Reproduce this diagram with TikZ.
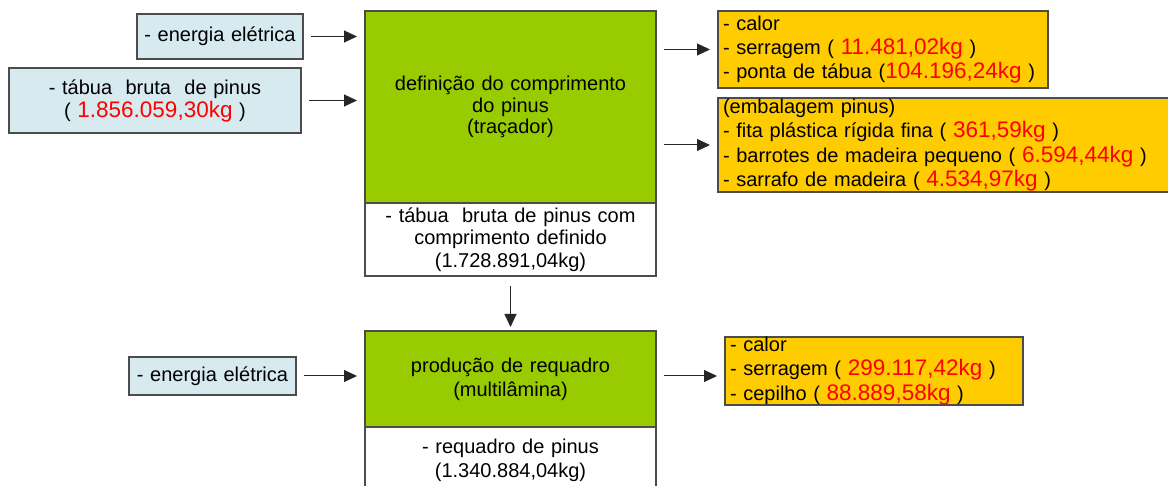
\documentclass[tikz,border=0pt]{standalone}
\usepackage{fontspec}
\setmainfont{Liberation Sans}
\usepackage{xcolor}
\usetikzlibrary{arrows.meta,positioning}
\definecolor{inblue}{RGB}{214,234,240}
\definecolor{procgreen}{RGB}{153,204,0}
\definecolor{lossorange}{RGB}{255,204,0}
\newcommand{\kg}[1]{\textcolor{red}{\fontsize{22.5}{24}\selectfont #1}}
\tikzset{box/.style={rectangle,draw=black!70,line width=1.2pt,inner sep=0pt,outer sep=0pt,
  font=\fontsize{20}{23}\selectfont},
}

\begin{document}
\begin{tikzpicture}[x=1pt,y=-1pt,>={Triangle[length=13pt,width=12pt]},
		flow/.style={->,draw=black!85,line width=1pt,shorten <=8pt,shorten >=8pt},
		in node/.style={box,fill=inblue,align=center},
		proc node/.style={box,fill=procgreen,align=center,text width=291pt,font=\fontsize{20}{21.5}\selectfont},
		prod node/.style={box,fill=white,align=center,text width=291pt,font=\fontsize{20}{22.5}\selectfont},
		loss node/.style={box,fill=lossorange,align=left,inner xsep=5pt,font=\fontsize{20}{24.3}\selectfont}]
		\path[use as bounding box,clip] (0,0) rectangle (1168,486);
		
		% primeira etapa
		\node[proc node,minimum height=192pt] (def) at (510.5,107) {defini\c{c}\~ao do comprimento\\do pinus\\(tra\c{c}ador)};
		\node[prod node,minimum height=73pt] (defout) [below=0pt of def] {- t\'abua~ bruta de pinus com\\comprimento definido\\(1.728.891,04kg)};
		\node[in node,text width=166pt,minimum height=45pt] (ee1) at (220,36.5) {- energia el\'etrica};
		\node[in node,text width=292pt,minimum height=65pt] (tab) at (155,100.5) {- t\'abua~ bruta~ de pinus\\( \kg{1.856.059,30kg} )};
		\node[loss node,text width=320pt,minimum height=77pt] (loss1) at (883,49.5) {- calor\\- serragem ( \kg{11.481,02kg} )\\- ponta de t\'abua (\kg{104.196,24kg} )};
		\node[loss node,text width=460pt,minimum height=94pt,anchor=west] (emb) at (718,145) {(embalagem pinus)\\- fita pl\'astica r\'igida fina ( \kg{361,59kg} )\\- barrotes de madeira pequeno ( \kg{6.594,44kg} )\\- sarrafo de madeira ( \kg{4.534,97kg} )};
		
		% segunda etapa
		\node[proc node,minimum height=96pt,font=\fontsize{20}{24}\selectfont] (req) at (510.5,379) {produ\c{c}\~ao de requadro\\(multil\^amina)};
		\node[prod node,minimum height=66pt,font=\fontsize{20}{24}\selectfont] (reqout) [below=0pt of req] {- requadro de pinus\\(1.340.884,04kg)};
		\node[in node,text width=167pt,minimum height=38pt] (ee2) at (212.5,376) {- energia el\'etrica};
		\node[loss node,text width=288pt,minimum height=68pt] (loss2) at (874,371) {- calor\\- serragem ( \kg{299.117,42kg} )\\- cepilho ( \kg{88.889,58kg} )};
		
		\draw[flow] (ee1) -- (def.west |- ee1);
		\draw[flow] (tab) -- (def.west |- tab);
		\draw[flow] (def.east |- loss1) -- (loss1);
		\draw[flow] (def.east |- emb) -- (emb);
		\draw[flow,shorten <=10pt,shorten >=4pt] (defout) -- (req);
		\draw[flow] (ee2) -- (req.west |- ee2);
		\draw[flow] (req.east |- ee2) -- (loss2.west |- ee2);
\end{tikzpicture}
\end{document}
